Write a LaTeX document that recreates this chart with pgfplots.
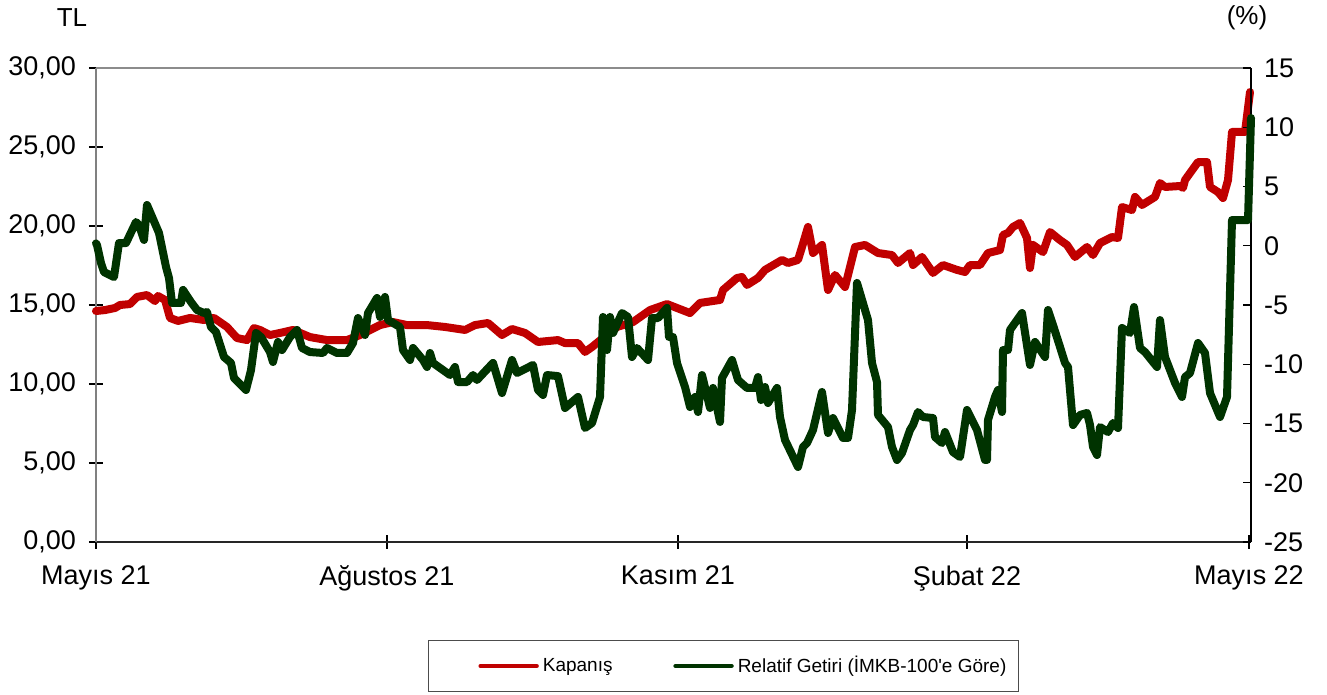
\documentclass[border=0pt]{standalone}
\usepackage{fontspec}
\setmainfont{Liberation Sans}
\usepackage{pgfplots}
\usepackage{pgfplotstable}
\pgfplotsset{compat=1.18}
\definecolor{kred}{RGB}{192,0,0}
\definecolor{kgreen}{RGB}{0,51,0}

\pgfplotstableread{
x y
0 14.62
9 14.68
19 14.81
24 15.00
34 15.06
41 15.51
51 15.63
59 15.25
62 15.57
69 15.32
74 14.18
82 13.99
94 14.18
108 14.05
118 14.18
131 13.61
141 12.91
151 12.78
158 13.54
164 13.42
174 13.10
184 13.23
197 13.42
214 12.97
231 12.78
251 12.78
264 13.10
284 13.73
297 13.92
311 13.73
331 13.73
349 13.61
369 13.42
379 13.73
392 13.86
406 13.10
416 13.48
429 13.23
442 12.66
462 12.78
469 12.59
482 12.59
489 12.03
496 12.34
507 12.91
521 13.61
537 13.92
554 14.68
571 15.06
581 14.81
594 14.49
604 15.13
624 15.32
627 15.95
641 16.71
646 16.77
651 16.27
662 16.71
669 17.22
686 17.85
692 17.66
702 17.85
706 18.67
712 19.94
717 18.29
726 18.80
732 15.95
739 16.90
749 16.14
759 18.67
769 18.80
782 18.29
796 18.16
802 17.66
814 18.29
817 17.53
826 18.04
837 17.03
847 17.53
861 17.22
869 17.09
874 17.53
884 17.53
892 18.29
904 18.48
907 19.43
912 19.56
917 19.94
924 20.19
931 19.24
934 17.34
937 18.80
947 18.35
954 19.62
964 19.11
971 18.80
979 18.04
991 18.67
997 18.16
1004 18.92
1016 19.30
1022 19.24
1026 21.20
1036 21.01
1039 21.84
1046 21.33
1059 21.84
1064 22.72
1069 22.47
1084 22.53
1087 22.41
1089 22.91
1102 24.05
1111 24.05
1114 22.47
1122 22.15
1127 21.77
1132 22.91
1136 25.95
1149 25.95
1154 28.48
}\kapanis

\pgfplotstableread{
x y
0 0.20
1 0.06
5 -1.46
8 -2.22
18 -2.64
23 0.23
30 0.23
40 2.00
43 1.75
48 0.49
51 3.44
63 1.08
70 -1.79
73 -2.72
76 -4.83
85 -4.83
87 -3.73
95 -4.75
101 -5.42
108 -5.68
111 -5.59
115 -6.86
120 -7.28
128 -9.39
135 -9.89
138 -11.16
150 -12.17
155 -10.49
160 -7.36
165 -7.70
174 -8.97
177 -9.81
182 -8.12
186 -8.80
194 -7.70
201 -7.11
206 -8.63
214 -8.97
227 -9.05
231 -8.63
241 -9.05
251 -9.05
257 -8.21
262 -6.10
269 -7.53
272 -5.68
281 -4.41
284 -6.01
289 -4.32
292 -6.27
304 -6.86
307 -8.80
314 -9.64
317 -8.63
327 -9.64
331 -10.23
334 -9.05
337 -9.89
354 -10.91
359 -10.23
362 -11.50
371 -11.50
377 -10.91
381 -11.33
397 -9.89
406 -12.43
416 -9.64
421 -10.74
437 -10.06
442 -12.17
447 -12.59
451 -10.91
462 -11.00
469 -13.69
482 -12.76
489 -15.38
496 -14.96
504 -12.76
507 -6.01
511 -8.80
514 -6.01
517 -7.36
526 -5.68
532 -6.01
536 -9.39
541 -8.63
552 -9.64
556 -6.10
562 -6.10
571 -5.25
573 -7.70
577 -7.70
581 -9.89
589 -11.92
594 -13.61
599 -12.76
602 -14.03
606 -10.91
614 -13.69
617 -12.00
624 -14.87
626 -11.16
636 -9.64
642 -11.33
651 -12.00
659 -12.00
662 -11.08
665 -13.02
669 -11.92
672 -13.27
681 -12.00
684 -14.45
689 -16.39
702 -18.67
707 -16.98
711 -16.65
717 -15.55
726 -12.34
732 -15.80
737 -14.54
747 -16.22
752 -16.22
756 -13.86
761 -3.14
772 -6.27
776 -9.89
781 -11.50
782 -14.28
792 -15.30
796 -16.98
801 -18.08
806 -17.49
814 -15.55
817 -15.13
822 -14.03
827 -14.45
837 -14.54
839 -16.14
846 -16.65
849 -15.72
857 -17.41
864 -17.83
871 -13.86
881 -15.55
889 -18.08
891 -18.08
892 -14.70
899 -12.76
902 -12.17
906 -14.03
907 -8.80
912 -8.80
914 -7.11
926 -5.68
934 -10.06
939 -8.12
949 -9.39
952 -5.42
957 -6.69
964 -8.54
969 -9.89
972 -10.23
977 -15.13
984 -14.28
991 -14.11
994 -15.13
997 -16.98
1001 -17.66
1004 -15.30
1012 -15.72
1017 -14.96
1022 -15.38
1026 -6.94
1034 -7.36
1038 -5.17
1044 -8.63
1049 -8.97
1061 -10.23
1064 -6.27
1069 -9.39
1079 -11.58
1086 -12.76
1089 -11.08
1094 -10.74
1102 -8.21
1109 -9.05
1114 -12.43
1124 -14.45
1131 -12.76
1136 2.17
1152 2.17
1155 10.78
}\relatif

\begin{document}
\begin{tikzpicture}
\useasboundingbox (-48pt,-76.5pt) rectangle (615.5pt,271pt);
\begin{axis}[
  scale only axis, width=577.5pt, height=237pt,
  at={(0,0)}, anchor=south west,
  xmin=0, xmax=1155, ymin=0, ymax=30,
  axis x line*=bottom, axis y line*=left,
  axis line style={-},
  x axis line style={black!85, line width=1pt},
  y axis line style={black!50, line width=1pt},
  xtick={0,291,582,871,1153},
  xticklabels={Mayıs 21, Ağustos 21, Kasım 21, Şubat 22, Mayıs 22},
  ytick={0,5,...,30},
  yticklabels={{0,00},{5,00},{10,00},{15,00},{20,00},{25,00},{30,00}},
  tick align=center,
  major tick length=7pt,
  tick style={black, line width=0.6pt},
  ticklabel style={font=\fontsize{13.5}{15}\selectfont},
  xticklabel style={yshift=-5pt},
  yticklabel style={xshift=-3pt},
  clip=false,
]
\addplot[kred, line width=4pt, line join=round, line cap=round] table[x=x,y=y] {\kapanis};
\draw[black!45, line width=1pt] (rel axis cs:0,1) -- (rel axis cs:1,1);
\node[font=\fontsize{13}{15}\selectfont] at (rel axis cs:-0.0208,1.1055) {TL};
\node[font=\fontsize{13}{15}\selectfont] at (rel axis cs:0.9965,1.1055) {(\%)};
\end{axis}
\begin{axis}[
  scale only axis, width=577.5pt, height=237pt,
  at={(0,0)}, anchor=south west,
  xmin=0, xmax=1155, ymin=-25, ymax=15,
  axis x line=none, axis y line*=right,
  axis line style={-, black, line width=1pt},
  ytick={-25,-20,...,15},
  yticklabels={-25,-20,-15,-10,-5,0,5,10,15},
  tick align=inside,
  major tick length=4pt,
  tick style={black, line width=0.6pt},
  ticklabel style={font=\fontsize{13.5}{15}\selectfont},
  yticklabel style={xshift=3pt},
  clip=false,
  legend style={at={(0.5433,-0.2616)}, anchor=center, draw=black!70, line width=0.6pt,
    font=\fontsize{9.5}{11}\selectfont, legend columns=2,
    inner xsep=4pt, inner ysep=6pt,
    /tikz/every even column/.append style={column sep=7.5pt}},
  legend image code/.code={\path[draw=none] (0pt,0pt) -- (22pt,0pt); \draw[#1, line width=2.2pt, line cap=round] (22pt,0pt) -- (50pt,0pt);},
]
\addlegendimage{kred, line width=4pt}
\addlegendentry{Kapanış}
\addplot[kgreen, line width=4pt, line join=round, line cap=round] table[x=x,y=y] {\relatif};
\addlegendentry{Relatif Getiri (İMKB-100\textquotesingle e Göre)}
\end{axis}
\end{tikzpicture}
\end{document}
